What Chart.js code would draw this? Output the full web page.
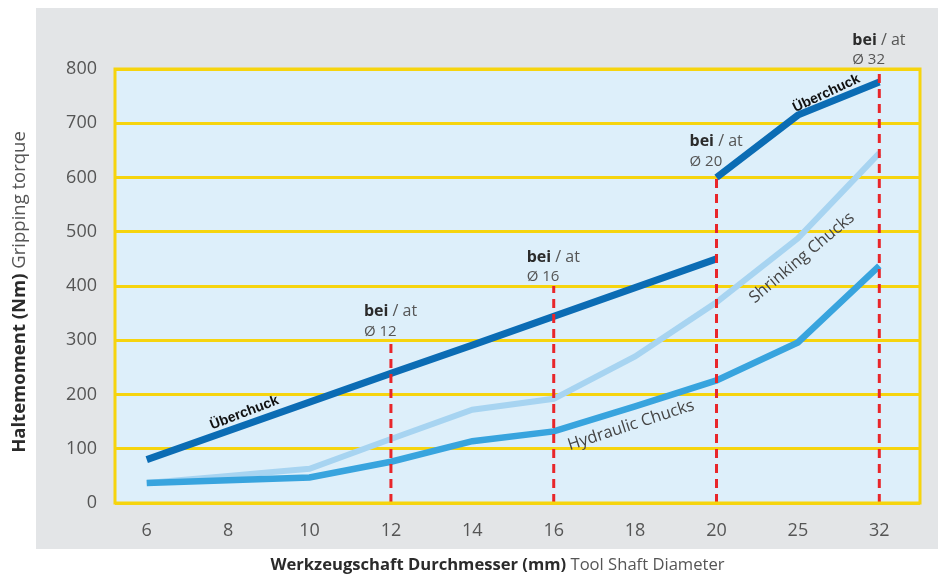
<!DOCTYPE html>
<html>
<head>
<meta charset="utf-8">
<script src="https://cdn.jsdelivr.net/npm/chart.js@4.4.0/dist/chart.umd.min.js"></script>
<style>
  html, body { margin: 0; padding: 0; background: #fff; }
  #wrap { position: relative; width: 939px; height: 575px; }
  #panel { position: absolute; left: 36px; top: 8px; width: 902px; height: 541px; background: #e3e5e7; }
  #chart { position: absolute; left: 0; top: 0; }
</style>
</head>
<body>
<div id="wrap">
  <div id="panel"></div>
  <canvas id="chart" width="939" height="575"></canvas>
</div>
<script>
// Tool shaft diameters (mm)
const diameters = ['6', '8', '10', '12', '14', '16', '18', '20', '25', '32'];

// Gripping torque (Nm)
const uberchuckSmall = [80, 133, 186, 239, 291, 344, 397, 450, null, null];
const uberchuckLarge = [null, null, null, null, null, null, null, 600, 715, 776];
const shrinkingChucks = [37, 50, 63, 118, 172, 192, 270, 370, 488, 645];
const hydraulicChucks = [37, 42, 47, 76, 114, 132, 178, 226, 296, 437];

const yTicks = [0, 100, 200, 300, 400, 500, 600, 700, 800];

// "bei / at" markers: diameter and height of the dashed line
const markerDiameters = ['12', '16', '20', '32'];
const markerTops = [300, 400, 600, 800];

const FONT = "'Open Sans', 'DejaVu Sans', sans-serif";
const YELLOW = '#f6d40e';

// x is the position of the diameter in the list (axis is evenly spaced)
const toPoints = values => values.map((v, i) => ({ x: i, y: v }));

const markerSets = markerDiameters.map((d, i) => {
    const idx = diameters.indexOf(d);
    return {
        label: 'marker ' + d,
        data: [{ x: idx, y: 0 }, { x: idx, y: markerTops[i] }],
        borderColor: '#e8262a',
        borderWidth: 3,
        borderDash: [9, 6],
        pointRadius: 0,
        order: 0
    };
});

// plot background + border
const plotBackground = {
    id: 'plotBackground',
    beforeDraw(chart) {
        const { ctx, chartArea: a } = chart;
        ctx.save();
        ctx.fillStyle = '#ddeffa';
        ctx.fillRect(a.left, a.top, a.right - a.left, a.bottom - a.top);
        ctx.restore();
    },
    afterDatasetsDraw(chart) {
        const { ctx, chartArea: a } = chart;
        ctx.save();
        ctx.strokeStyle = YELLOW;
        ctx.lineWidth = 3;
        ctx.strokeRect(a.left, a.top, a.right - a.left, a.bottom - a.top);
        ctx.restore();
    }
};

function rotatedText(ctx, text, x, y, angle, font, color) {
    ctx.save();
    ctx.translate(x, y);
    ctx.rotate(angle * Math.PI / 180);
    ctx.font = font;
    ctx.fillStyle = color;
    ctx.textAlign = 'center';
    ctx.textBaseline = 'middle';
    ctx.fillText(text, 0, 0);
    ctx.restore();
}

// two-style text run (bold part + regular part)
function mixedText(ctx, boldPart, regPart, x, y, size, align) {
    ctx.save();
    ctx.textBaseline = 'middle';
    ctx.textAlign = 'left';
    ctx.font = 'bold ' + size + 'px ' + FONT;
    const w1 = ctx.measureText(boldPart).width;
    ctx.font = size + 'px ' + FONT;
    const w2 = ctx.measureText(regPart).width;
    let start = x;
    if (align === 'center') start = x - (w1 + w2) / 2;
    ctx.font = 'bold ' + size + 'px ' + FONT;
    ctx.fillStyle = '#2b2b2b';
    ctx.fillText(boldPart, start, y);
    ctx.font = size + 'px ' + FONT;
    ctx.fillStyle = '#555';
    ctx.fillText(regPart, start + w1, y);
    ctx.restore();
}

const annotations = {
    id: 'annotations',
    afterDraw(chart) {
        const { ctx, scales: { x, y }, chartArea: a } = chart;

        // marker captions
        markerDiameters.forEach((d, i) => {
            const px = x.getPixelForValue(diameters.indexOf(d)) - 27;
            const top = y.getPixelForValue(markerTops[i]);
            const lift = d === '20' ? 7 : 0;
            mixedText(ctx, 'bei', ' / at', px, top - 29 - lift, 16, 'left');
            ctx.save();
            ctx.font = '15px ' + FONT;
            ctx.fillStyle = '#555';
            ctx.textBaseline = 'middle';
            ctx.fillText('Ø ' + d, px, top - 9 - lift);
            ctx.restore();
        });

        // series labels
        const labelFont = "bold 14px 'Liberation Sans', Arial, sans-serif";
        rotatedText(ctx, 'Überchuck', x.getPixelForValue(1.2), y.getPixelForValue(166), -21, labelFont, '#111');
        rotatedText(ctx, 'Überchuck', x.getPixelForValue(8.35), y.getPixelForValue(755), -25, labelFont, '#111');
        rotatedText(ctx, 'Shrinking Chucks', x.getPixelForValue(8.05), y.getPixelForValue(452), -40, '16.5px ' + FONT, '#444');
        rotatedText(ctx, 'Hydraulic Chucks', x.getPixelForValue(5.95), y.getPixelForValue(143), -18, '16.5px ' + FONT, '#444');

        // axis titles
        mixedText(ctx, 'Werkzeugschaft Durchmesser (mm)', ' Tool Shaft Diameter', (a.left + a.right) / 2 - 20, 565, 16.6, 'center');
        ctx.save();
        ctx.translate(20, 292);
        ctx.rotate(-Math.PI / 2);
        mixedText(ctx, 'Haltemoment (Nm)', ' Gripping torque', 0, 0, 18.5, 'center');
        ctx.restore();
    }
};

const lineStyle = { pointRadius: 0, tension: 0 };

new Chart(document.getElementById('chart'), {
    type: 'line',
    data: {
        datasets: [
            { ...lineStyle, label: 'Shrinking Chucks', data: toPoints(shrinkingChucks), borderColor: '#a7d4f1', borderWidth: 6, order: 3 },
            { ...lineStyle, label: 'Hydraulic Chucks', data: toPoints(hydraulicChucks), borderColor: '#38a4de', borderWidth: 6.5, order: 2 },
            { ...lineStyle, label: 'Überchuck', data: toPoints(uberchuckSmall), borderColor: '#0b6cb4', borderWidth: 7, order: 1 },
            { ...lineStyle, label: 'Überchuck large', data: toPoints(uberchuckLarge), borderColor: '#0b6cb4', borderWidth: 7, order: 1 },
            ...markerSets
        ]
    },
    options: {
        responsive: false,
        animation: false,
        layout: { padding: { left: 0, right: 19, top: 69, bottom: 0 } },
        plugins: {
            legend: { display: false },
            tooltip: { enabled: false }
        },
        scales: {
            x: {
                type: 'linear',
                min: -0.39,
                max: 9.5,
                afterBuildTicks(scale) { scale.ticks = diameters.map((d, i) => ({ value: i })); },
                grid: { display: false, drawTicks: false },
                border: { display: false },
                ticks: {
                    padding: 17,
                    color: '#555',
                    font: { size: 18, family: FONT },
                    callback: v => diameters[v]
                },
                afterFit(scale) { scale.height = 72; }
            },
            y: {
                min: 0,
                max: 800,
                afterBuildTicks(scale) { scale.ticks = yTicks.map(v => ({ value: v })); },
                grid: { color: YELLOW, lineWidth: 3, drawTicks: false },
                border: { display: false },
                ticks: {
                    padding: 18,
                    color: '#555',
                    font: { size: 18, family: FONT }
                },
                afterFit(scale) { scale.width = 115; }
            }
        }
    },
    plugins: [plotBackground, annotations]
});
</script>
</body>
</html>
